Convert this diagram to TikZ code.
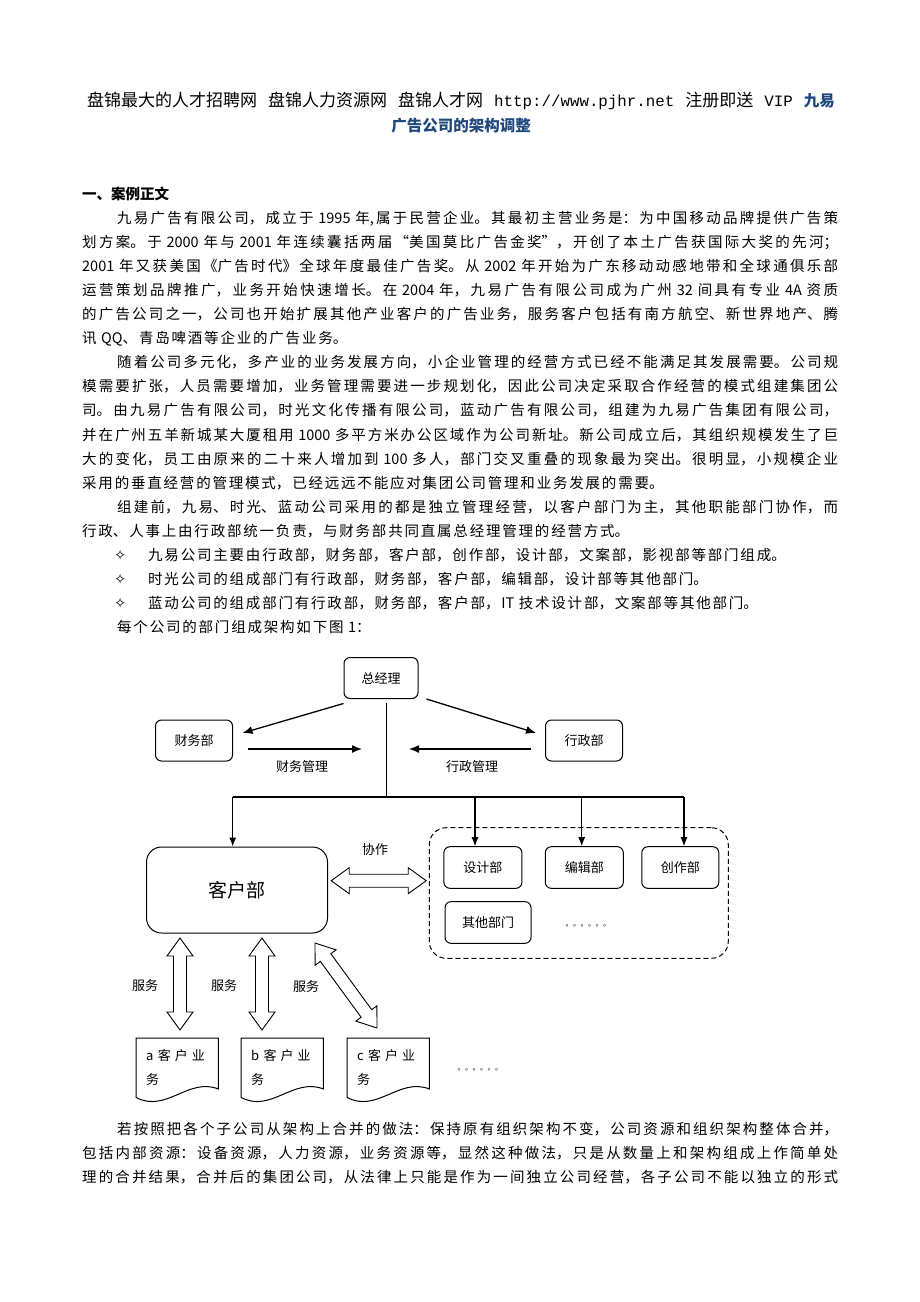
\documentclass[tikz,border=0pt]{standalone}
\usepackage{fontspec}
\setmainfont{Noto Sans CJK SC}
\newfontfamily\monof{Liberation Mono}
\newfontfamily\symf{DejaVu Sans}
\usetikzlibrary{positioning,calc,arrows.meta}
\definecolor{titleblue}{RGB}{31,73,125}
\XeTeXlinebreaklocale "zh"
\XeTeXlinebreakskip=0pt
\XeTeXlinebreakpenalty=10000
\newcommand\bodyfont{\fontsize{14.5}{24}\selectfont}
\newcommand\boxfont{\fontsize{13}{15}\selectfont}
\newcommand\bigfont{\fontsize{19}{22}\selectfont}
\newcommand\docfont{\fontsize{13}{24}\selectfont}
\newcommand\bodyskip{\XeTeXlinebreakskip=1.8pt plus 4pt minus 1.8pt\relax\spaceskip=4.5pt plus 2pt minus 1pt\relax}
\newcommand\dblarrow[2]{%
 \draw[blk] (#1) -- ($(#1)!18pt!(#2)!13pt!90:(#2)$) -- ($(#1)!18pt!(#2)!6.5pt!90:(#2)$)
  -- ($(#2)!18pt!(#1)!6.5pt!-90:(#1)$) -- ($(#2)!18pt!(#1)!13pt!-90:(#1)$) -- (#2)
  -- ($(#2)!18pt!(#1)!13pt!90:(#1)$) -- ($(#2)!18pt!(#1)!6.5pt!90:(#1)$)
  -- ($(#1)!18pt!(#2)!6.5pt!-90:(#2)$) -- ($(#1)!18pt!(#2)!13pt!-90:(#2)$) -- cycle;}
\tikzset{
 ln/.style={anchor=base west, inner sep=0pt, text width=756pt, align=left, font=\bodyfont,
  execute at begin node=\bodyskip},
 jl/.style={anchor=base west, inner sep=0pt, text width=756pt, align=justify, font=\bodyfont,
  execute at begin node={\bodyskip\parfillskip=0pt\relax}},
 bul/.style={anchor=base west, inner sep=0pt, font=\symf\fontsize{14.5}{16}\selectfont},
 box/.style={draw, line width=1pt, rounded corners=6pt, inner sep=0pt, font=\boxfont},
 lab/.style={inner sep=0pt, font=\boxfont},
 arr/.style={line width=1.3pt, -{Latex[length=10pt,width=8pt]}},
 dn/.style={line width=1.1pt, -{Latex[length=9pt,width=7pt]}},
 blk/.style={line width=0.9pt, fill=white, line join=miter},
 doc/.style={anchor=north west, inner xsep=10pt, inner ysep=0pt, text width=62pt,
  minimum height=59pt, align=left, font=\docfont, execute at begin node={\XeTeXlinebreakskip=4pt\relax}},
 docline/.style={line width=1pt},
 dots/.style={anchor=base, inner sep=0pt, font=\fontsize{7.5}{9}\selectfont}
}

\begin{document}
\begin{tikzpicture}[x=1pt,y=-1pt]
 \fill[white] (0,0) rectangle (920,1302);
 \useasboundingbox (0,0) rectangle (920,1302);

 % title
 \node[anchor=base, inner sep=0pt, font=\fontsize{17}{20}\selectfont,
  execute at begin node={\XeTeXlinebreakskip=1.4pt\relax\spaceskip=11pt plus 1pt\relax}] (t1) at (461,106)
  {盘锦最大的人才招聘网 盘锦人力资源网 盘锦人才网 {\monof\fontsize{15.8}{20}\selectfont http://www.pjhr.net} 注册即送 {\monof\fontsize{15.8}{20}\selectfont VIP} {\color{titleblue}\bfseries\fontsize{15.5}{20}\selectfont 九易}};
 \node[anchor=base, inner sep=0pt, text=titleblue, font=\bfseries\fontsize{15.5}{20}\selectfont,
  execute at begin node={\XeTeXlinebreakskip=0.9pt\relax}] (t2) at (461,131) {广告公司的架构调整};

 % body text
 \node[anchor=base west, inner sep=0pt, font=\bfseries\fontsize{14.5}{20}\selectfont,
  execute at begin node={\XeTeXlinebreakskip=1.2pt\relax}] (h1) at (82,199) {一、案例正文};
 \node[jl] (p1a) at (82,223.1) {\hspace*{35pt}九易广告有限公司，成立于~1995~年,属于民营企业。其最初主营业务是：为中国移动品牌提供广告策};
 \node[jl] (p1b) at (82,247.2) {划方案。于~2000~年与~2001~年连续囊括两届“美国莫比广告金奖”，开创了本土广告获国际大奖的先河；};
 \node[jl] (p1c) at (82,271.3) {2001~年又获美国《广告时代》全球年度最佳广告奖。从~2002~年开始为广东移动动感地带和全球通俱乐部};
 \node[jl] (p1d) at (82,295.4) {运营策划品牌推广，业务开始快速增长。在~2004~年，九易广告有限公司成为广州~32~间具有专业~4A~资质};
 \node[jl] (p1e) at (82,319.5) {的广告公司之一，公司也开始扩展其他产业客户的广告业务，服务客户包括有南方航空、新世界地产、腾};
 \node[ln] (p1f) at (82,343.6) {讯~QQ、青岛啤酒等企业的广告业务。};

 \node[jl] (p2a) at (82,367.7) {\hspace*{35pt}随着公司多元化，多产业的业务发展方向，小企业管理的经营方式已经不能满足其发展需要。公司规};
 \node[jl] (p2b) at (82,391.8) {模需要扩张，人员需要增加，业务管理需要进一步规划化，因此公司决定采取合作经营的模式组建集团公};
 \node[jl] (p2c) at (82,415.9) {司。由九易广告有限公司，时光文化传播有限公司，蓝动广告有限公司，组建为九易广告集团有限公司，};
 \node[jl] (p2d) at (82,440) {并在广州五羊新城某大厦租用~1000~多平方米办公区域作为公司新址。新公司成立后，其组织规模发生了巨};
 \node[jl] (p2e) at (82,464.1) {大的变化，员工由原来的二十来人增加到~100~多人，部门交叉重叠的现象最为突出。很明显，小规模企业};
 \node[ln] (p2f) at (82,488.2) {采用的垂直经营的管理模式，已经远远不能应对集团公司管理和业务发展的需要。};

 \node[jl] (p3a) at (82,512.3) {\hspace*{35pt}组建前，九易、时光、蓝动公司采用的都是独立管理经营，以客户部门为主，其他职能部门协作，而};
 \node[ln] (p3b) at (82,536.4) {行政、人事上由行政部统一负责，与财务部共同直属总经理管理的经营方式。};

 \foreach \y/\t [count=\i] in {560.5/九易公司主要由行政部，财务部，客户部，创作部，设计部，文案部，影视部等部门组成。,
   584.6/时光公司的组成部门有行政部，财务部，客户部，编辑部，设计部等其他部门。,
   608.7/蓝动公司的组成部门有行政部，财务部，客户部，IT~技术设计部，文案部等其他部门。} {
  \node[bul] (bu\i) at (114,\y) {✧};
  \node[ln] (bt\i) at (148,\y) {\t};
 }
 \node[ln] (p4) at (117,632.8) {每个公司的部门组成架构如下图~1：};

 % top of chart
 \node[box, minimum width=74pt, minimum height=41pt] (zjl) at (381,678) {总经理};
 \node[box, minimum width=77pt, minimum height=41pt] (cwb) at (194,740.5) {财务部};
 \node[box, minimum width=77pt, minimum height=41pt] (xzb) at (584,740.5) {行政部};

 \coordinate (top) at (386.7,703);
 \coordinate (jn) at (386.7,797);
 \draw[line width=1.1pt] (top) -- (jn);
 \draw[arr] ($(zjl.south west)+(0,4.5)$) -- ($(cwb.east)+(9.5,-7.5)$);
 \draw[arr] ($(zjl.south east)+(8,0)$) -- ($(xzb.west)+(-9,-7.5)$);
 \draw[arr] ($(cwb.east)+(14.5,8.5)$) -- ($(top |- cwb.east)+(-24.7,8.5)$);
 \draw[arr] ($(xzb.west)+(-13.8,8.5)$) -- ($(top |- xzb.west)+(22.3,8.5)$);
 \node[lab] (cwgl) at (302,767) {财务管理};
 \node[lab] (xzgl) at (472,767) {行政管理};

 % departments
 \node[box, rounded corners=15pt, minimum width=181pt, minimum height=86pt, font=\bigfont] (khb) at (237,890) {客户部};
 \node[draw, line width=1pt, dash pattern=on 5pt off 3pt, rounded corners=17pt, minimum width=299pt,
  minimum height=130.6pt, inner sep=0pt] (grp) at (578.8,893) {};
 \node[box, minimum width=78pt, minimum height=41.6pt] (sjb) at (482.9,867.5) {设计部};
 \node[box, minimum width=78pt, minimum height=41.6pt] (bjb) at (584.3,867.5) {编辑部};
 \node[box, minimum width=77pt, minimum height=41.6pt] (czb) at (680.3,867.5) {创作部};
 \node[box, minimum width=86pt, minimum height=41.6pt] (qtb) at (488,922.5) {其他部门};
 \node[dots] (dt1) at (588,926) {。。。。。。};

 % bus
 \coordinate (bl) at (232.7,797);
 \coordinate (b2) at (475,797);
 \coordinate (b3) at (581.7,797);
 \coordinate (br) at (684,797);
 \draw[line width=1.1pt] (bl) -- (br);
 \draw[dn] (bl) -- (bl |- khb.north);
 \draw[dn] (b2) -- (b2 |- sjb.north);
 \draw[dn] (b3) -- (b3 |- bjb.north);
 \draw[dn] (br) -- (br |- czb.north);

 % cooperation
 \node[lab] (xz) at (375,850) {协作};
 \coordinate (h1) at ($(khb.east)+(3.2,-9.3)$);
 \coordinate (h2) at ($(grp.west)+(-2.6,-12.3)$);
 \dblarrow{h1}{h2}

 % clients
 \node[doc] (da) at (136,1038) {a 客户业\\务};
 \node[doc] (db) at (241,1038) {b 客户业\\务};
 \node[doc] (dc) at (347,1038) {c 客户业\\务};
 \foreach \d in {da,db,dc} {
  \draw[docline] (\d.north west) -- (\d.north east) -- ++(0,51)
   .. controls +(-30,-12) and +(30,16) .. (\d.south west) -- cycle;
 }
 \node[dots] (dt2) at (480,1070) {。。。。。。};

 % service
 \coordinate (s1a) at (180,938);
 \coordinate (s1b) at (180,1030);
 \coordinate (s2a) at (262,938);
 \coordinate (s2b) at (262,1030);
 \coordinate (s3a) at (315,943);
 \coordinate (s3b) at (377,1028);
 \dblarrow{s1a}{s1b}
 \dblarrow{s2a}{s2b}
 \dblarrow{s3a}{s3b}
 \node[lab] (fw1) at (145,986) {服务};
 \node[lab] (fw2) at (224,986) {服务};
 \node[lab] (fw3) at (306,987) {服务};

 % closing text
 \node[jl] (p5a) at (82,1134) {\hspace*{35pt}若按照把各个子公司从架构上合并的做法：保持原有组织架构不变，公司资源和组织架构整体合并，};
 \node[jl] (p5b) at (82,1158) {包括内部资源：设备资源，人力资源，业务资源等，显然这种做法，只是从数量上和架构组成上作简单处};
 \node[jl] (p5c) at (82,1182) {理的合并结果，合并后的集团公司，从法律上只能是作为一间独立公司经营，各子公司不能以独立的形式};
\end{tikzpicture}
\end{document}
